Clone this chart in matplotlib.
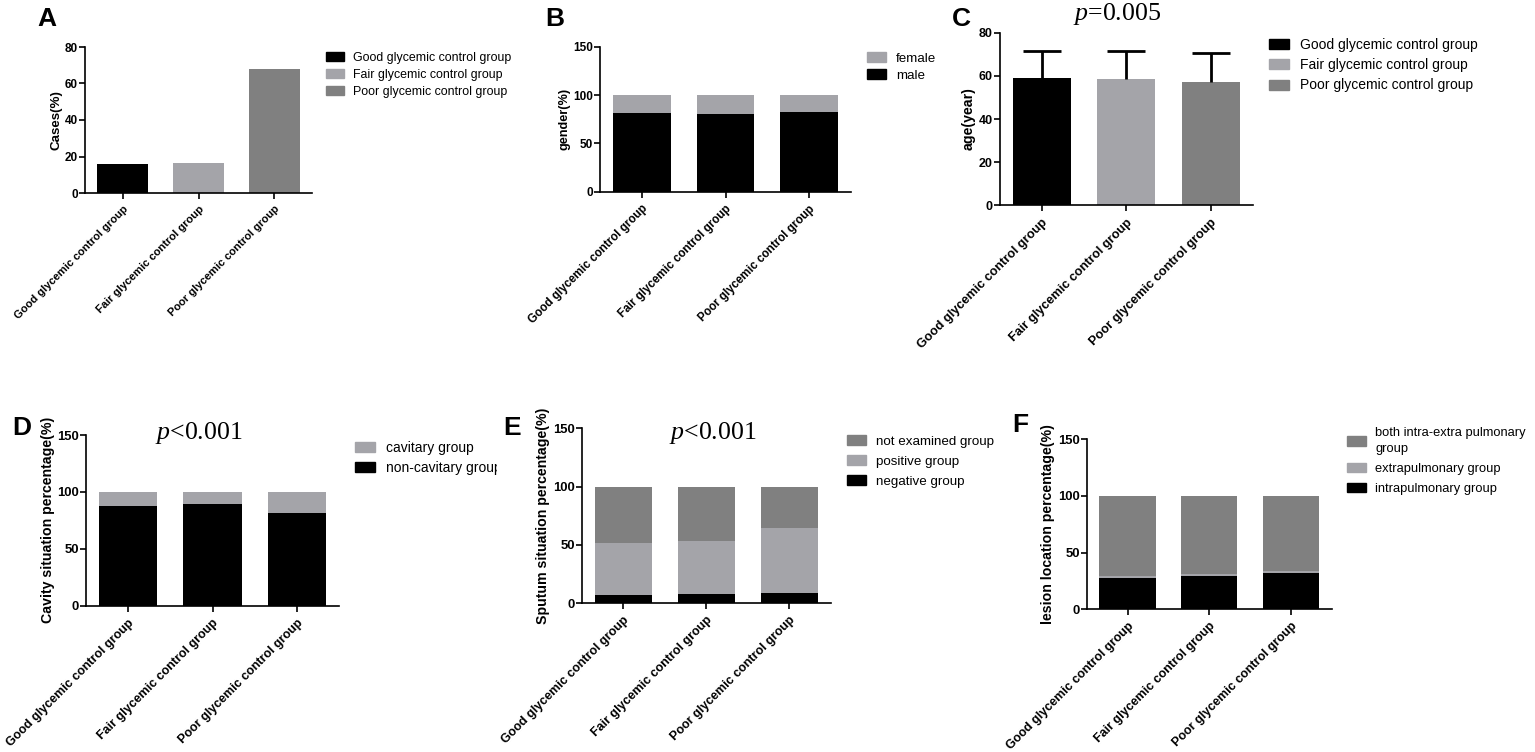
import numpy as np
import matplotlib.pyplot as plt
from matplotlib.patches import Patch
from matplotlib.transforms import Bbox, TransformedBbox

plt.rcParams['font.family'] = ['Liberation Sans', 'DejaVu Sans']
plt.rcParams['mathtext.fontset'] = 'custom'
plt.rcParams['mathtext.rm'] = 'Liberation Serif'
plt.rcParams['mathtext.it'] = 'Liberation Serif:italic'

W, H = 1535, 752
BLACK = '#000000'
LIGHT = '#a4a4a9'
DARK = '#808080'

# 数据
groups = ['Good glycemic control group', 'Fair glycemic control group', 'Poor glycemic control group']
cases_pct = [15.8, 16.2, 68.0]                 # A
male_pct = [81.7, 80.8, 82.8]                  # B
female_pct = [18.3, 19.2, 17.2]
age_mean = [58.8, 58.5, 57.1]                  # C
age_sd = [12.7, 13.1, 13.3]
noncavity_pct = [87.9, 89.6, 81.7]             # D
cavity_pct = [12.1, 10.4, 18.3]
negative_pct = [7.1, 8.2, 9.1]                 # E
positive_pct = [44.3, 45.5, 55.8]
notexam_pct = [48.6, 46.3, 35.1]
intra_pct = [27.8, 29.3, 32.2]                 # F
extra_pct = [1.5, 1.5, 1.4]
both_pct = [70.7, 69.2, 66.4]

fig = plt.figure(figsize=(W / 100, H / 100), dpi=100)


def make_ax(x0, x1, ytop, ybot):
    # 像素坐标 -> 图坐标
    return fig.add_axes([x0 / W, 1 - ybot / H, (x1 - x0) / W, (ybot - ytop) / H])


def style(ax, ymax, step, ylabel, tick_fs, xfs, yfs):
    for s in ['top', 'right']:
        ax.spines[s].set_visible(False)
    for s in ['left', 'bottom']:
        ax.spines[s].set_linewidth(1.2)
    ax.set_xlim(-0.5, 2.5)
    ax.set_ylim(0, ymax)
    ax.set_yticks(np.arange(0, ymax + 1, step))
    ax.set_xticks(range(3))
    ax.set_xticklabels(groups, rotation=45, ha='right', rotation_mode='anchor',
                       fontsize=xfs, fontweight='bold')
    ax.tick_params(axis='both', width=1.2, length=4, direction='out')
    ax.tick_params(axis='x', pad=4)
    ax.tick_params(axis='y', pad=1)
    for t in ax.get_yticklabels():
        t.set_fontsize(tick_fs)
        t.set_fontweight('bold')
    ax.set_ylabel(ylabel, fontsize=yfs, fontweight='bold', labelpad=2)


def legend(handles, x, y, fs, gap=0.45):
    leg = fig.legend(handles=handles, loc='upper left',
                     bbox_to_anchor=(x / W, 1 - y / H), frameon=False,
                     fontsize=fs, handlelength=1.45, handleheight=0.75,
                     handletextpad=0.75, labelspacing=gap, borderpad=0,
                     borderaxespad=0)
    return leg


def letter(ch, x, y):
    fig.text(x / W, 1 - y / H, ch, fontsize=19, fontweight='bold',
             ha='left', va='center')


def ptext(s, x, y):
    fig.text(x / W, 1 - y / H, s, fontsize=18.6, family='Liberation Serif',
             ha='center', va='center')


xs = np.arange(3)
bar_colors = [BLACK, LIGHT, DARK]

# A
ax = make_ax(85, 312, 47, 193)
ax.bar(xs, cases_pct, width=0.675, color=bar_colors)
style(ax, 80, 20, 'Cases(%)', 8.5, 8, 9.6)
legend([Patch(color=c, label=g) for c, g in zip(bar_colors, groups)], 326, 52, 8.9, 0.4)
letter('A', 37, 19)

# B
ax = make_ax(600, 851, 46.7, 191.7)
ax.bar(xs, male_pct, width=0.69, color=BLACK)
ax.bar(xs, female_pct, width=0.69, bottom=male_pct, color=LIGHT)
style(ax, 150, 50, 'gender(%)', 8.5, 8.4, 9.1)
legend([Patch(color=LIGHT, label='female'), Patch(color=BLACK, label='male')], 867, 52, 9.6, 0.35)
letter('B', 545, 19)

# C
ax = make_ax(999.5, 1253, 32.7, 205.3)
ax.bar(xs, age_mean, width=0.69, color=bar_colors)
eb = ax.errorbar(xs, age_mean, yerr=[np.zeros(3), age_sd], fmt='none',
                 ecolor=BLACK, elinewidth=2, capsize=14, capthick=2)
eb[1][0].set_visible(False)   # 只保留上方误差线帽
style(ax, 80, 20, 'age(year)', 9, 9.2, 10.2)
legend([Patch(color=c, label=g) for c, g in zip(bar_colors, groups)], 1269, 38, 10, 0.45)
letter('C', 952, 19)
ptext(r'$p$=0.005', 1117, 14)

# D
ax = make_ax(86, 339, 435, 605.7)
ax.bar(xs, noncavity_pct, width=0.69, color=BLACK)
ax.bar(xs, cavity_pct, width=0.69, bottom=noncavity_pct, color=LIGHT)
style(ax, 150, 50, 'Cavity situation percentage(%)', 9.4, 9, 10.2)
leg = legend([Patch(color=LIGHT, label='cavitary group'),
              Patch(color=BLACK, label='non-cavitary group')], 355, 441, 10, 0.45)
clip = TransformedBbox(Bbox([[0, 0], [497 / W, 1]]), fig.transFigure)
for t in leg.get_texts():
    t.set_clip_box(clip)
    t.set_clip_on(True)
letter('D', 12, 428)
ptext(r'$p$<0.001', 199, 433)

# E
ax = make_ax(581.7, 831, 428.3, 603.3)
bottom2 = np.array(negative_pct) + np.array(positive_pct)
ax.bar(xs, negative_pct, width=0.69, color=BLACK)
ax.bar(xs, positive_pct, width=0.69, bottom=negative_pct, color=LIGHT)
ax.bar(xs, notexam_pct, width=0.69, bottom=bottom2, color=DARK)
style(ax, 150, 50, 'Sputum situation percentage(%)', 9.4, 9, 10.2)
legend([Patch(color=DARK, label='not examined group'),
        Patch(color=LIGHT, label='positive group'),
        Patch(color=BLACK, label='negative group')], 847, 435, 9.6, 0.56)
letter('E', 503, 428)
ptext(r'$p$<0.001', 713, 433)

# F
ax = make_ax(1086.7, 1331.7, 439, 609.3)
bottom2 = np.array(intra_pct) + np.array(extra_pct)
ax.bar(xs, intra_pct, width=0.69, color=BLACK)
ax.bar(xs, extra_pct, width=0.69, bottom=intra_pct, color=LIGHT)
ax.bar(xs, both_pct, width=0.69, bottom=bottom2, color=DARK)
style(ax, 150, 50, 'lesion location percentage(%)', 9.4, 9, 10.2)
leg = legend([Patch(color=DARK, label='both intra-extra pulmonary\ngroup'),
              Patch(color=LIGHT, label='extrapulmonary group'),
              Patch(color=BLACK, label='intrapulmonary group')], 1347, 427, 9.3, 0.6)
leg.get_texts()[0].set_linespacing(1.45)
letter('F', 1012, 425)

plt.savefig('out.png', dpi=100)
